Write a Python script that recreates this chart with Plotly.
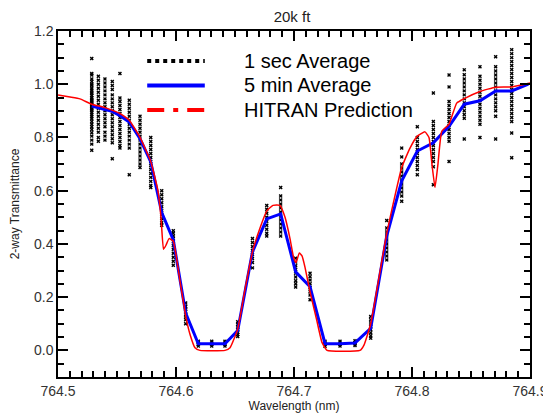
import plotly.graph_objects as go

# ---------------- data ----------------
# 1-second averages: wavelength columns and the values read at each column
sec_wl = [764.5286, 764.5342, 764.5398, 764.5460, 764.5525, 764.5604, 764.5695,
          764.5786, 764.5879, 764.5977, 764.6082, 764.6189, 764.6303, 764.6415,
          764.6523, 764.6648, 764.6769, 764.6887, 764.7014, 764.7136, 764.7263,
          764.7390, 764.7517, 764.7650, 764.7786, 764.7913, 764.8045, 764.8181,
          764.8314, 764.8443, 764.8576, 764.8709, 764.8845]
sec_vals = [
    [1.097, 1.04, 1.035, 1.02, 1.01, 1.0, 0.995, 0.985, 0.978, 0.97, 0.965, 0.958, 0.95, 0.945,
     0.94, 0.935, 0.93, 0.925, 0.92, 0.915, 0.91, 0.905, 0.9, 0.893, 0.885, 0.878, 0.87, 0.86,
     0.85, 0.84, 0.83, 0.818, 0.805, 0.79, 0.775, 0.752],
    [1.03, 1.015, 1.0, 0.985, 0.97, 0.955, 0.94, 0.925, 0.91, 0.895, 0.88, 0.865, 0.85, 0.835, 0.82, 0.8, 0.786],
    [1.02, 1.005, 0.99, 0.975, 0.96, 0.945, 0.93, 0.915, 0.9, 0.885, 0.87, 0.855, 0.84, 0.82, 0.805, 0.79],
    [1.01, 0.995, 0.98, 0.96, 0.945, 0.93, 0.915, 0.9, 0.885, 0.87, 0.855, 0.84, 0.825, 0.81, 0.795, 0.78, 0.72],
    [1.04, 0.948, 0.935, 0.92, 0.905, 0.89, 0.875, 0.86, 0.845, 0.83, 0.815, 0.8, 0.785, 0.77, 0.76],
    [0.94, 0.925, 0.91, 0.895, 0.88, 0.865, 0.85, 0.835, 0.82, 0.805, 0.79, 0.775, 0.76, 0.66],
    [0.88, 0.865, 0.85, 0.835, 0.82, 0.805, 0.79, 0.775, 0.76, 0.745, 0.73, 0.715, 0.7, 0.687],
    [0.80, 0.785, 0.77, 0.755, 0.74, 0.725, 0.71, 0.695, 0.68, 0.665, 0.65, 0.635, 0.62, 0.612],
    [0.60, 0.585, 0.57, 0.555, 0.54, 0.525, 0.51, 0.495, 0.48, 0.47],
    [0.45, 0.44, 0.43, 0.42, 0.41, 0.395, 0.38, 0.365, 0.35, 0.335, 0.32],
    [0.178, 0.165, 0.155, 0.145, 0.135, 0.125, 0.115, 0.10],
    [0.034, 0.028, 0.022, 0.016],
    [0.034, 0.028, 0.022, 0.016],
    [0.034, 0.028, 0.022, 0.016],
    [0.108, 0.098, 0.088, 0.078, 0.068, 0.06, 0.052],
    [0.42, 0.405, 0.39, 0.375, 0.36, 0.345, 0.33, 0.31],
    [0.544, 0.53, 0.515, 0.5, 0.485, 0.47, 0.455, 0.44, 0.43],
    [0.612, 0.58, 0.565, 0.55, 0.535, 0.52, 0.505, 0.49, 0.475, 0.46, 0.445, 0.43],
    [0.346, 0.332, 0.318, 0.304, 0.29, 0.276, 0.262, 0.25, 0.238],
    [0.29, 0.277, 0.264, 0.25, 0.236, 0.222, 0.208, 0.19],
    [0.034, 0.028, 0.022, 0.015],
    [0.034, 0.028, 0.022, 0.016],
    [0.036, 0.03, 0.024, 0.018],
    [0.127, 0.115, 0.103, 0.09, 0.078, 0.066, 0.055, 0.046],
    [0.488, 0.46, 0.445, 0.43, 0.415, 0.4, 0.385, 0.37, 0.355, 0.34],
    [0.76, 0.727, 0.70, 0.685, 0.67, 0.655, 0.64, 0.625, 0.61, 0.595, 0.58, 0.56],
    [0.84, 0.80, 0.785, 0.77, 0.755, 0.74, 0.725, 0.71, 0.695, 0.68, 0.66],
    [0.967, 0.86, 0.845, 0.83, 0.815, 0.8, 0.785, 0.77, 0.755, 0.74, 0.725, 0.71, 0.69, 0.622],
    [1.035, 0.99, 0.935, 0.92, 0.905, 0.89, 0.875, 0.86, 0.845, 0.83, 0.815, 0.8, 0.786, 0.71],
    [1.054, 1.036, 1.02, 1.005, 0.99, 0.975, 0.96, 0.945, 0.93, 0.915, 0.9, 0.886, 0.872, 0.794],
    [1.066, 1.03, 1.015, 1.0, 0.985, 0.97, 0.955, 0.94, 0.925, 0.91, 0.895, 0.88, 0.865, 0.85, 0.80],
    [1.103, 1.066, 1.05, 1.035, 1.02, 1.005, 0.99, 0.975, 0.96, 0.945, 0.93, 0.915, 0.9, 0.88, 0.794],
    [1.13, 1.115, 1.1, 1.085, 1.07, 1.055, 1.04, 1.025, 1.01, 0.995, 0.98, 0.965, 0.95, 0.935,
     0.92, 0.905, 0.89, 0.875, 0.86, 0.817, 0.724],
]

# 5-minute averages
min5_wl = sec_wl + [764.8986]
min5_val = [0.918, 0.91, 0.905, 0.898, 0.882, 0.858, 0.795, 0.708, 0.518, 0.415,
            0.14, 0.025, 0.025, 0.025, 0.075, 0.37, 0.494, 0.513, 0.295, 0.239,
            0.025, 0.025, 0.028, 0.083, 0.43, 0.637, 0.749, 0.78, 0.842, 0.925,
            0.938, 0.975, 0.975, 1.0]

# HITRAN prediction
hitran_wl = [764.5000, 764.5102, 764.5186, 764.5286, 764.5398, 764.5525, 764.5604, 764.5695,
             764.5786, 764.5847, 764.5873, 764.5894, 764.5915, 764.5941, 764.5977, 764.6034,
             764.6082, 764.6119, 764.6161, 764.6203, 764.6415, 764.6458, 764.6523, 764.6585,
             764.6648, 764.6712, 764.6771, 764.6822, 764.6881, 764.6924, 764.6966, 764.6996,
             764.7017, 764.7045, 764.7068, 764.7093, 764.7136, 764.7192, 764.7237, 764.7280,
             764.7559, 764.7593, 764.7650, 764.7786, 764.7913, 764.7983, 764.8045, 764.8110,
             764.8144, 764.8169, 764.8195, 764.8220, 764.8252, 764.8314, 764.8379, 764.8443,
             764.8576, 764.8709, 764.8845, 764.9000]
hitran_val = [0.96, 0.952, 0.945, 0.925, 0.912, 0.89, 0.865, 0.80,
              0.71, 0.60, 0.50, 0.38, 0.395, 0.42, 0.41, 0.26,
              0.13, 0.06, 0.01, 0.0, 0.0, 0.01, 0.08, 0.23,
              0.37, 0.46, 0.525, 0.545, 0.545, 0.50, 0.42, 0.35,
              0.33, 0.366, 0.355, 0.313, 0.22, 0.115, 0.03, 0.0,
              0.0, 0.02, 0.10, 0.44, 0.687, 0.76, 0.805, 0.821,
              0.80, 0.70, 0.612, 0.70, 0.823, 0.85, 0.929, 0.946,
              0.973, 0.989, 0.99, 1.005]

legend_names = ["1 sec Average", "5 min Average", "HITRAN Prediction"]
x_ticks = [764.5, 764.6, 764.7, 764.8, 764.9]
y_ticks = [0.0, 0.2, 0.4, 0.6, 0.8, 1.0, 1.2]
x_range = [764.5, 764.9]
y_range = [-0.1, 1.2]

# ---------------- figure ----------------
FONT = "Liberation Sans, Arial, Helvetica"
sx, sy = [], []
for w, vals in zip(sec_wl, sec_vals):
    for v in vals:
        sx.append(w)
        sy.append(v)

fig = go.Figure()
fig.add_trace(go.Scatter(x=sx, y=sy, mode="markers", name=legend_names[0], showlegend=False,
                         marker=dict(symbol="x", size=3.5, color="black", line=dict(width=0))))
fig.add_trace(go.Scatter(x=min5_wl, y=min5_val, mode="lines", name=legend_names[1], showlegend=False,
                         line=dict(color="#0000ff", width=3)))
fig.add_trace(go.Scatter(x=hitran_wl, y=hitran_val, mode="lines", name=legend_names[2], showlegend=False,
                         line=dict(color="#ff0000", width=1.5, shape="spline", smoothing=0.4)))

# legend drawn inside the plot area (sample lines + labels)
leg_styles = [dict(color="black", width=4, dash="dot"),
              dict(color="#0000ff", width=4),
              dict(color="#ff0000", width=4, dash="17px,9px,5px,9px")]
leg_rows = [0.9133, 0.8425, 0.7717]
for name, st, yy in zip(legend_names, leg_styles, leg_rows):
    fig.add_shape(type="line", xref="paper", yref="paper", x0=0.189, x1=0.311, y0=yy, y1=yy,
                  line=st)
    fig.add_annotation(xref="paper", yref="paper", x=0.392, y=yy, xanchor="left", yanchor="middle",
                       text=name, showarrow=False, borderpad=0,
                       font=dict(family=FONT, size=20, color="black"))

axis_common = dict(showline=True, linecolor="black", linewidth=1.5, mirror="ticks",
                   ticks="inside", ticklen=10, tickwidth=2, tickcolor="black",
                   showgrid=False, zeroline=False, automargin=False,
                   ticklabeloverflow="allow",
                   tickfont=dict(family=FONT, size=14, color="#333"))

# the page body adds an 8px offset, so the figure is sized to fit the 551x416 window
fig.update_layout(
    width=543, height=405,
    margin=dict(l=50, r=21, t=23, b=36, autoexpand=False),
    paper_bgcolor="white", plot_bgcolor="white",
    title=dict(text="20k ft", x=0.523, xanchor="center", y=0.978, yanchor="middle",
               font=dict(family=FONT, size=15, color="#222")),
    showlegend=False,
    xaxis=dict(range=x_range, tickmode="array", tickvals=x_ticks, tickformat=".1f",
               ticklabelstandoff=0,
               minor=dict(ticks="inside", dtick=0.01, ticklen=6, tickcolor="black", tickwidth=1.5),
               title=dict(text="Wavelength (nm)", standoff=20,
                          font=dict(family=FONT, size=12, color="#222")),
               **axis_common),
    yaxis=dict(range=y_range, tickmode="array", tickvals=y_ticks, tickformat=".1f",
               minor=dict(ticks="inside", dtick=0.05, ticklen=6, tickcolor="black", tickwidth=1.5),
               title=dict(text="2-way Transmittance", standoff=12,
                          font=dict(family=FONT, size=12, color="#222")),
               **axis_common),
)

fig.write_html("out.html")
